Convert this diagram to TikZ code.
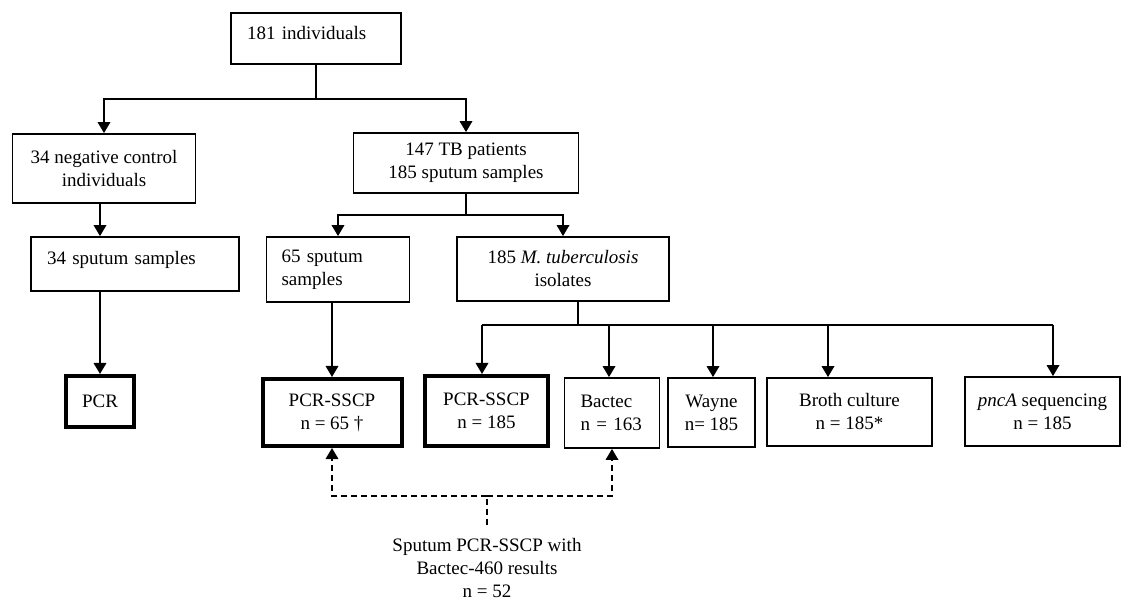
\documentclass[tikz,border=0pt]{standalone}
\usepackage{fontspec}
\setmainfont{Liberation Serif}
\usepackage{tikz}
\usetikzlibrary{positioning,arrows.meta,calc}

\begin{document}
\begin{tikzpicture}[x=1pt, y=-1pt,
    every node/.style={font=\fontsize{19}{23}\selectfont},
    caixa/.style={draw, line width=1.8pt, align=center, inner sep=0pt},
    caixaesq/.style={caixa, align=left, inner xsep=16pt},
    grossa/.style={caixa, line width=4pt},
    linha/.style={line width=1.8pt},
    seta/.style={linha, -{Triangle[width=12.5pt,length=11pt]}},
    tracejada/.style={seta, dash pattern=on 6pt off 4pt}]
    \useasboundingbox (0,0) rectangle (1122,601);
    % Caixas de cima
    \node[caixaesq, text width=138pt, minimum height=51pt, text depth=12pt] (topo) at (316,38.5) {181 individuals};
    \node[caixa, minimum width=183pt, minimum height=69pt] (neg) at (104,168.5) {34 negative control\\individuals};
    \node[caixa, minimum width=225pt, minimum height=60pt] (tb) at (466,163) {147 TB patients\\185 sputum samples};
    % Amostras
    \node[caixaesq, text width=176pt, minimum height=54pt, text depth=12pt] (sp34) at (135,264) {34 sputum samples};
    \node[caixaesq, text width=113pt, inner xsep=15pt, minimum height=65pt] (sp65) at (338,269.5) {65 sputum\\samples};
    \node[caixa, minimum width=212pt, minimum height=64pt] (isol) at (563,269) {185 \textit{M. tuberculosis}\\isolates};
    % Testes
    \node[grossa, minimum width=68pt, minimum height=51pt] (pcr) at (100,401.5) {PCR};
    \node[grossa, minimum width=139pt, minimum height=67pt] (ssc65) at (332,412.5) {PCR-SSCP\\n = 65 \textdagger};
    \node[grossa, minimum width=123pt, minimum height=70pt] (ssc185) at (486.5,411) {PCR-SSCP\\n = 185};
    \node[caixaesq, text width=63pt, minimum height=70pt] (bactec) at (612,413) {Bactec\\n = 163};
    \node[caixa, minimum width=87pt, minimum height=69pt] (wayne) at (711.5,412.5) {Wayne\\n= 185};
    \node[caixa, minimum width=165pt, minimum height=68pt] (broth) at (849.5,412) {Broth culture\\n = 185*};
    \node[caixa, minimum width=155pt, minimum height=69pt] (pnca) at (1042.5,411.5) {\textit{pncA} sequencing\\n = 185};
    \node[align=center, inner sep=0pt] (nota) at (487,568) {Sputum PCR-SSCP with\\Bactec-460 results\\n = 52};
    % Ligacoes
    \coordinate (r1) at (316,99);
    \coordinate (r2) at (466,215);
    \coordinate (r3) at (578,325);
    \draw[linha] (topo) -- (r1);
    \draw[seta] (r1) -| (neg);
    \draw[seta] (r1) -| (tb);
    \draw[linha] (tb) -- (r2);
    \draw[seta] (r2) -| (sp65);
    \draw[seta] (r2) -| (isol);
    \draw[seta] (neg.south -| pcr.north) -- (sp34.north -| pcr.north);
    \draw[seta] (sp34.south -| pcr.north) -- (pcr);
    \draw[seta] (sp65.south -| ssc65.north) -- (ssc65);
    \draw[linha] (isol.south -| r3) -- (r3);
    \coordinate (b1) at (482,325);
    \coordinate (b2) at (609,325);
    \coordinate (b3) at (713,325);
    \coordinate (b4) at (828,325);
    \coordinate (b5) at (1053,325);
    \draw[linha] (b1) -- (b5);
    \foreach \c/\n in {b1/ssc185, b2/bactec, b3/wayne, b4/broth, b5/pnca}
        \draw[seta] (\c) -- (\c |- \n.north);
    % Resultados comparados (tracejado)
    \coordinate (t0) at (487,525);
    \coordinate (t1) at (487,496);
    \draw[linha, dash pattern=on 6pt off 4pt] (t0) -- (t1);
    \draw[tracejada] (t1) -| (ssc65);
    \draw[tracejada] (t1) -| (bactec);
\end{tikzpicture}
\end{document}
